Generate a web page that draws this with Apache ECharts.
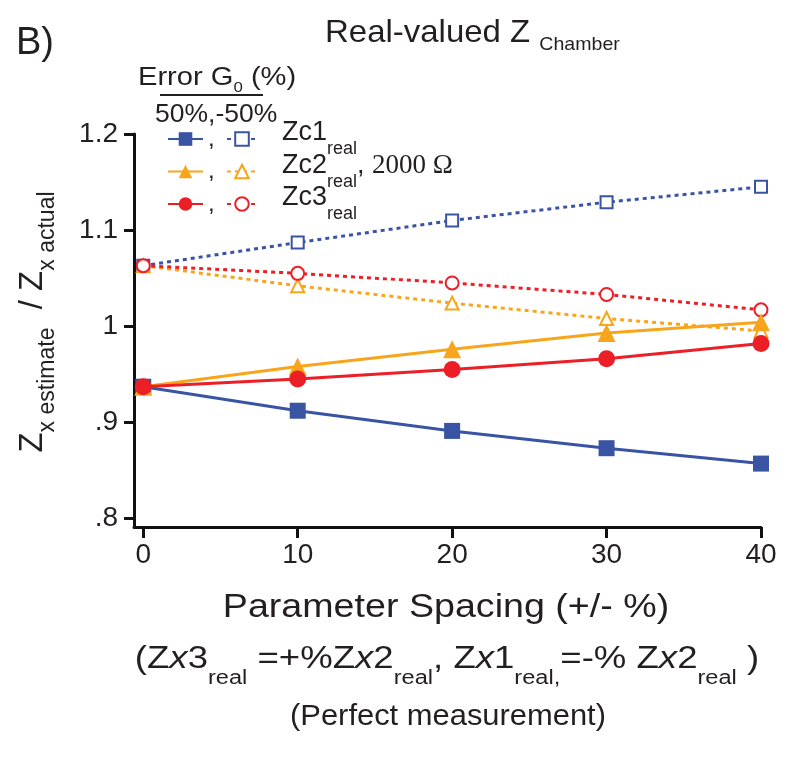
<!DOCTYPE html>
<html><head><meta charset="utf-8">
<script src="https://cdn.jsdelivr.net/npm/echarts@6/dist/echarts.min.js"></script>
<style>html,body{margin:0;padding:0;background:#fff}#c{width:794px;height:763px}</style>
</head><body><div id="c"></div>
<script>
// ---- data ----
const xValues = [0, 10, 20, 30, 40];
const zc1Pos = [0.937, 0.912, 0.891, 0.873, 0.857];
const zc1Neg = [1.063, 1.087, 1.110, 1.129, 1.145];
const zc2Pos = [0.937, 0.958, 0.976, 0.993, 1.004];
const zc2Neg = [1.063, 1.042, 1.024, 1.008, 0.995];
const zc3Pos = [0.937, 0.945, 0.955, 0.966, 0.982];
const zc3Neg = [1.063, 1.055, 1.045, 1.033, 1.017];
const xTicks = [0, 10, 20, 30, 40];
const xTickLabels = ['0', '10', '20', '30', '40'];
const yTicks = [0.8, 0.9, 1.0, 1.1, 1.2];
const yTickLabels = ['.8', '.9', '1', '1.1', '1.2'];
const seriesNames = ['Zc1 +50%', 'Zc2 +50%', 'Zc3 +50%', 'Zc1 -50%', 'Zc2 -50%', 'Zc3 -50%'];

// ---- style ----
const FONT = '"Liberation Sans", Arial, Helvetica, sans-serif';
const SERIF = '"Liberation Serif", "Times New Roman", serif';
const INK = '#231f20';
const BLUE = '#3a54a4', ORANGE = '#f9a51b', RED = '#ec1f27';

function pairs(ys) { return xValues.map((x, i) => [x, ys[i]]); }
function labelOf(ticks, labels, v) {
  for (let i = 0; i < ticks.length; i++) if (Math.abs(ticks[i] - v) < 1e-6) return labels[i];
  return '';
}
function solid(name, ys, color, symbol, size) {
  return { name, type: 'line', data: pairs(ys), symbol, symbolSize: size,
    lineStyle: { color, width: 3 }, itemStyle: { color }, z: 3 };
}
function dotted(name, ys, color, symbol, size) {
  return { name, type: 'line', data: pairs(ys), symbol, symbolSize: size,
    lineStyle: { color, width: 3, type: [4, 4] }, itemStyle: { color, borderWidth: 2.5 }, z: 2 };
}
function txt(x, y, text, size, opts) {
  opts = opts || {};
  return { type: 'text', x, y, rotation: opts.rotation || 0, scaleX: opts.scaleX || 1, silent: true,
    style: { text, fill: INK, font: (opts.italic ? 'italic ' : '') + size + 'px ' + (opts.family || FONT),
      align: opts.align || 'left', textAlign: opts.align || 'left',
      verticalAlign: 'middle', textVerticalAlign: 'middle', rich: opts.rich } };
}
function richMain(size, family) { return { fontSize: size, fontFamily: family || FONT, color: INK }; }
function richSub(size, pad) { return { fontSize: size, fontFamily: FONT, color: INK, padding: [pad, 0, 0, 0] }; }

const chart = echarts.init(document.getElementById('c'), null, { renderer: 'canvas' });
chart.setOption({
  animation: false,
  backgroundColor: '#fff',
  grid: { left: 134, top: 134, width: 627, height: 393, containLabel: false },
  xAxis: {
    type: 'value', min: -0.6, max: 40,
    axisLine: { show: true, onZero: false, lineStyle: { color: '#111', width: 3 } },
    axisTick: { show: true, customValues: xTicks, length: 11, lineStyle: { color: '#111', width: 3 } },
    axisLabel: { customValues: xTicks, formatter: v => labelOf(xTicks, xTickLabels, v),
      fontSize: 28, fontFamily: FONT, color: INK, margin: 14 },
    splitLine: { show: false }
  },
  yAxis: {
    type: 'value', min: 0.791, max: 1.2,
    axisLine: { show: true, onZero: false, lineStyle: { color: '#111', width: 3 } },
    axisTick: { show: true, customValues: yTicks, length: 10, lineStyle: { color: '#111', width: 3 } },
    axisLabel: { customValues: yTicks, formatter: v => labelOf(yTicks, yTickLabels, v),
      fontSize: 28, fontFamily: FONT, color: INK, margin: 16 },
    splitLine: { show: false }
  },
  legend: [
    { data: seriesNames.slice(0, 3), orient: 'vertical', left: 167, top: 127, padding: 0,
      itemWidth: 35, itemHeight: 17, itemGap: 8.5, selectedMode: false,
      formatter: () => ',', textStyle: { fontSize: 24, fontFamily: FONT, color: INK } },
    { data: seriesNames.slice(3), orient: 'vertical', left: 226, top: 127, padding: 0,
      itemWidth: 30, itemHeight: 17, itemGap: 8.5, selectedMode: false,
      formatter: () => ' ', textStyle: { fontSize: 24, fontFamily: FONT, color: INK } }
  ],
  series: [
    solid(seriesNames[0], zc1Pos, BLUE, 'rect', 16),
    solid(seriesNames[1], zc2Pos, ORANGE, 'triangle', 18),
    solid(seriesNames[2], zc3Pos, RED, 'circle', 17),
    dotted(seriesNames[3], zc1Neg, BLUE, 'emptyRect', 12),
    dotted(seriesNames[4], zc2Neg, ORANGE, 'emptyTriangle', 13),
    dotted(seriesNames[5], zc3Neg, RED, 'emptyCircle', 13)
  ],
  graphic: [
    txt(16, 44, 'B)', 38),
    txt(325, 33, '{m|Real-valued Z }{s|Chamber}', 32, { scaleX: 1.03, rich: { m: richMain(32), s: richSub(19, 23) } }),
    txt(138, 78, '{m|Error G}{s|0}{m| (%)}', 26, { scaleX: 1.12, rich: { m: richMain(26), s: richSub(15, 20) } }),
    { type: 'line', silent: true, shape: { x1: 160, y1: 95, x2: 263, y2: 95 }, style: { stroke: INK, lineWidth: 2 } },
    txt(155, 115, '50%,-50%', 25, { scaleX: 1.06 }),
    txt(282, 133, '{m|Zc1}{s|real}', 27, { rich: { m: richMain(27), s: richSub(18, 32) } }),
    txt(282, 166, '{m|Zc2}{s|real}{m|, }{w|2000 Ω}', 27, { rich: { m: richMain(27), s: richSub(18, 32), w: richMain(27, SERIF) } }),
    txt(282, 198, '{m|Zc3}{s|real}', 27, { rich: { m: richMain(27), s: richSub(18, 32) } }),
    txt(446, 608, 'Parameter Spacing (+/- %)', 33, { align: 'center', scaleX: 1.14 }),
    txt(447, 659, '{m|(Z}{i|x}{m|3}{s|real}{m| =+%Z}{i|x}{m|2}{s|real}{m|, Z}{i|x}{m|1}{s|real,}{m|=-% Z}{i|x}{m|2}{s|real}{m| )}', 31,
      { align: 'center', scaleX: 1.18, rich: { m: richMain(31), i: { fontSize: 31, fontFamily: FONT, fontStyle: 'italic', color: INK }, s: richSub(20, 38) } }),
    txt(448, 717, '(Perfect measurement)', 30, { align: 'center', scaleX: 1.03 }),
    txt(33, 322, '{m|Z}{s|x estimate}{m|  / Z}{s|x actual}', 33,
      { align: 'center', rotation: Math.PI / 2, rich: { m: richMain(33), s: richSub(23, 30) } })
  ]
});
</script></body></html>
